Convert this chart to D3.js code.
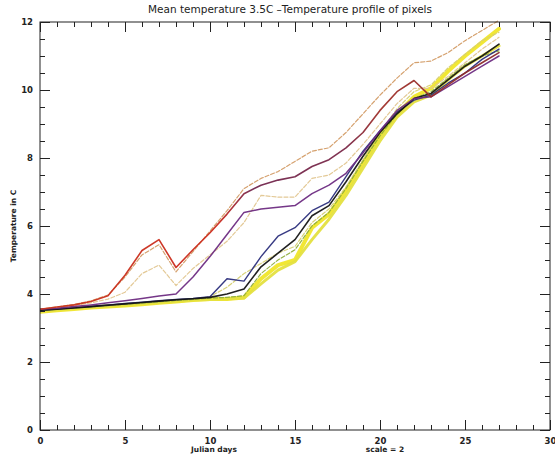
<!DOCTYPE html>
<meta charset="utf-8">
<style>
    body { margin: 0; background: #fff; }
    text { font-family: "DejaVu Sans", sans-serif; fill: #222; }
    .axis path { display: none; }
    .axis line { stroke: #222; stroke-width: 1; }
    .axis text { font-size: 8.5px; font-weight: bold; }
    path.line { fill: none; stroke-linejoin: round; stroke-linecap: round; }
</style>
<body>
<script src="https://cdn.jsdelivr.net/npm/d3@7"></script>
<script>

    // Julian day index (scale = 2)
    var days = [0,1,2,3,4,5,6,7,8,9,10,11,12,13,14,15,16,17,18,19,20,21,22,23,24,25,26,27];

    var xTicks = [0, 5, 10, 15, 20, 25, 30];
    var yTicks = [0, 2, 4, 6, 8, 10, 12];

    // temperature profile of each pixel
    var yellowA = [3.48,3.52,3.56,3.60,3.63,3.66,3.70,3.74,3.78,3.82,3.85,3.85,3.90,4.45,4.85,5.00,5.95,6.35,7.05,7.85,8.65,9.30,9.80,10.05,10.55,11.00,11.40,11.80];
    var yellowB = [3.50,3.54,3.58,3.62,3.65,3.68,3.72,3.75,3.79,3.82,3.84,3.86,3.88,4.30,4.70,4.95,5.60,6.20,6.90,7.70,8.50,9.20,9.65,9.85,10.30,10.70,11.00,11.30];
    var khaki   = [3.52,3.56,3.60,3.63,3.66,3.70,3.74,3.78,3.82,3.85,3.92,4.20,4.60,4.90,5.20,5.40,6.10,6.50,7.15,7.95,8.75,9.45,9.95,10.15,10.65,11.05,11.45,11.70];
    var green   = [3.51,3.55,3.59,3.62,3.66,3.70,3.73,3.77,3.81,3.84,3.88,3.90,3.95,4.60,5.00,5.30,6.00,6.40,7.10,7.90,8.65,9.30,9.75,9.95,10.35,10.75,11.00,11.15];
    var tanMid  = [3.54,3.60,3.66,3.74,3.85,4.05,4.60,4.85,4.25,4.75,5.15,5.55,6.10,6.90,6.85,6.85,7.40,7.50,7.85,8.40,9.00,9.60,10.05,10.05,10.40,10.80,11.20,11.55];
    var tanTop  = [3.56,3.62,3.69,3.80,3.97,4.50,5.15,5.45,4.65,5.25,5.85,6.45,7.10,7.40,7.60,7.90,8.20,8.30,8.75,9.30,9.85,10.35,10.80,10.85,11.10,11.45,11.75,12.05];
    var navy    = [3.52,3.56,3.60,3.64,3.68,3.72,3.76,3.80,3.84,3.87,3.92,4.45,4.38,5.10,5.70,5.95,6.45,6.70,7.45,8.20,8.80,9.35,9.70,9.85,10.20,10.50,10.90,11.20];
    var black   = [3.52,3.55,3.59,3.63,3.67,3.71,3.75,3.79,3.83,3.86,3.90,4.00,4.15,4.80,5.20,5.60,6.30,6.60,7.30,8.05,8.75,9.30,9.75,9.90,10.30,10.70,11.00,11.35];
    var purple  = [3.55,3.58,3.63,3.68,3.74,3.80,3.87,3.94,4.00,4.50,5.10,5.75,6.40,6.50,6.55,6.60,6.95,7.20,7.55,8.15,8.80,9.40,9.75,9.80,10.10,10.40,10.70,11.00];
    var red     = [3.55,3.62,3.68,3.78,3.95,4.55,5.28,5.60,4.78,5.30,5.80,6.35,6.95,7.20,7.35,7.45,7.75,7.95,8.30,8.75,9.40,9.95,10.28,9.80,10.15,10.50,10.80,11.10];

    var series = [
        {values: yellowA, color: "#f0e62a", width: 4,   dash: null},
        {values: yellowB, color: "#e4e040", width: 3,   dash: null},
        {values: khaki,   color: "#d6cf72", width: 1.2, dash: "4,2"},
        {values: green,   color: "#8fae3c", width: 1.2, dash: "4,2"},
        {values: tanMid,  color: "#e2c690", width: 1.2, dash: "4,2"},
        {values: tanTop,  color: "#d39c66", width: 1.2, dash: "4,2"},
        {values: navy,    color: "#2c2f7c", width: 1.4, dash: null},
        {values: black,   color: "#151515", width: 1.6, dash: null},
        {values: purple,  color: "#6e2c82", width: 1.5, dash: null},
        {values: red,     color: "url(#redGrad)", width: 1.6, dash: null}
    ];

    var width = 555, height = 460;
    var plotL = 40, plotR = 550, plotT = 22, plotB = 430;

    var x = d3.scaleLinear().domain([0, 30]).range([plotL, plotR]);
    var y = d3.scaleLinear().domain([0, 12]).range([plotB, plotT]);

    var svg = d3.select("body").append("svg")
            .attr("width", width)
            .attr("height", height);

    // red line turns purple-ish in the middle of the run
    var grad = svg.append("defs").append("linearGradient")
            .attr("id", "redGrad")
            .attr("gradientUnits", "userSpaceOnUse")
            .attr("x1", x(0)).attr("x2", x(27))
            .attr("y1", 0).attr("y2", 0);
    grad.append("stop").attr("offset", 0).attr("stop-color", "#c8351e");
    grad.append("stop").attr("offset", 10.5 / 27).attr("stop-color", "#cc2a1c");
    grad.append("stop").attr("offset", 12.5 / 27).attr("stop-color", "#72264e");
    grad.append("stop").attr("offset", 18 / 27).attr("stop-color", "#7a2848");
    grad.append("stop").attr("offset", 20 / 27).attr("stop-color", "#a0302a");
    grad.append("stop").attr("offset", 1).attr("stop-color", "#8a2a2a");

    svg.append("clipPath").attr("id", "plotClip")
            .append("rect")
            .attr("x", plotL).attr("y", plotT - 4)
            .attr("width", plotR - plotL).attr("height", plotB - plotT + 4);

    var line = d3.line()
            .x(function(d, i) { return x(days[i]); })
            .y(function(d) { return y(d); });

    svg.append("g").attr("clip-path", "url(#plotClip)")
            .selectAll("path.line").data(series).enter()
            .append("path")
            .attr("class", "line")
            .attr("d", function(s) { return line(s.values); })
            .attr("stroke", function(s) { return s.color; })
            .attr("stroke-width", function(s) { return s.width; })
            .attr("stroke-dasharray", function(s) { return s.dash; })
            .attr("opacity", 0.95);

    // frame
    svg.append("rect")
            .attr("x", plotL).attr("y", plotT)
            .attr("width", plotR - plotL).attr("height", plotB - plotT)
            .attr("fill", "none").attr("stroke", "#222").attr("stroke-width", 1);

    var xMinor = d3.range(0, 31, 1);
    var yMinor = d3.range(0, 12.01, 0.5);

    // bottom
    svg.append("g").attr("class", "axis")
            .attr("transform", "translate(0," + plotB + ")")
            .call(d3.axisBottom(x).tickValues(xTicks).tickSize(-10).tickPadding(8).tickFormat(d3.format("d")));
    svg.append("g").attr("class", "axis")
            .attr("transform", "translate(0," + plotB + ")")
            .call(d3.axisBottom(x).tickValues(xMinor).tickSize(-5).tickFormat(""));
    // top
    svg.append("g").attr("class", "axis")
            .attr("transform", "translate(0," + plotT + ")")
            .call(d3.axisTop(x).tickValues(xTicks).tickSize(-10).tickFormat(""));
    svg.append("g").attr("class", "axis")
            .attr("transform", "translate(0," + plotT + ")")
            .call(d3.axisTop(x).tickValues(xMinor).tickSize(-5).tickFormat(""));
    // left
    svg.append("g").attr("class", "axis")
            .attr("transform", "translate(" + plotL + ",0)")
            .call(d3.axisLeft(y).tickValues(yTicks).tickSize(-10).tickPadding(7).tickFormat(d3.format("d")));
    svg.append("g").attr("class", "axis")
            .attr("transform", "translate(" + plotL + ",0)")
            .call(d3.axisLeft(y).tickValues(yMinor).tickSize(-5).tickFormat(""));
    // right
    svg.append("g").attr("class", "axis")
            .attr("transform", "translate(" + plotR + ",0)")
            .call(d3.axisRight(y).tickValues(yTicks).tickSize(-10).tickFormat(""));
    svg.append("g").attr("class", "axis")
            .attr("transform", "translate(" + plotR + ",0)")
            .call(d3.axisRight(y).tickValues(yMinor).tickSize(-5).tickFormat(""));

    // titles
    svg.append("text")
            .attr("x", 290).attr("y", 13)
            .attr("text-anchor", "middle")
            .style("font-size", "10.5px")
            .text("Mean temperature 3.5C \u2013Temperature profile of pixels");

    svg.append("text")
            .attr("transform", "translate(16," + ((plotT + plotB) / 2) + ") rotate(-90)")
            .attr("text-anchor", "middle")
            .style("font-size", "7.5px").style("font-weight", "bold")
            .text("Temperature in C");

    svg.append("text")
            .attr("x", 214).attr("y", 452)
            .attr("text-anchor", "middle")
            .style("font-size", "7.5px").style("font-weight", "bold")
            .text("Julian days");

    svg.append("text")
            .attr("x", 385).attr("y", 452)
            .attr("text-anchor", "middle")
            .style("font-size", "7.5px").style("font-weight", "bold")
            .text("scale = 2");

</script>
